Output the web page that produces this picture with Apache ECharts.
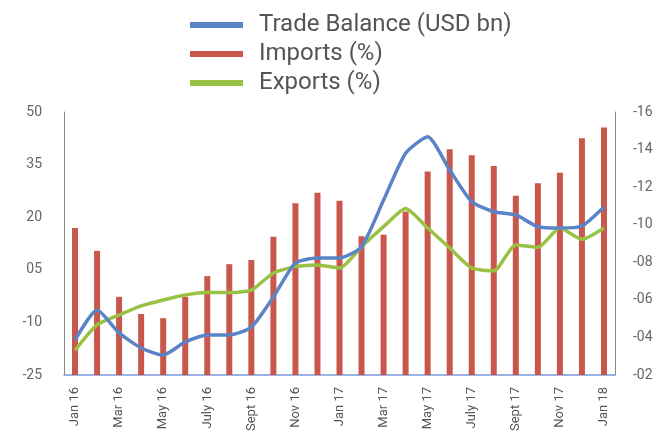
<!DOCTYPE html>
<html>
<head>
<meta charset="utf-8">
<script src="https://cdn.jsdelivr.net/npm/echarts@6/dist/echarts.min.js"></script>
<style>html,body{margin:0;padding:0;background:#fff;}#c{width:669px;height:441px;}</style>
</head>
<body>
<div id="c"></div>
<script>
const categories = ['Jan 16','Feb 16','Mar 16','Apr 16','May 16','Jun 16','July 16','Aug 16','Sept 16','Oct 16','Nov 16','Dec 16',
  'Jan 17','Feb 17','Mar 17','Apr 17','May 17','Jun 17','July 17','Aug 17','Sept 17','Oct 17','Nov 17','Dec 17','Jan 18'];
const imports = [16.9,10.4,-2.7,-7.6,-8.8,-2.7,3.2,6.6,7.8,14.4,24.0,27.0,24.7,14.6,15.0,21.6,33.0,39.4,37.7,34.6,26.1,29.7,32.7,42.5,45.6];
const exportsPct = [-17.9,-10.7,-7.9,-5.3,-3.6,-2.2,-1.5,-1.5,-0.8,4.1,5.9,6.4,5.5,11.6,17.3,22.5,16.9,11.2,5.5,4.7,12.1,11.4,16.9,13.7,16.9];
const tradeBalance = [-3.86,-5.46,-4.24,-3.44,-3.06,-3.76,-4.13,-4.13,-4.55,-6.15,-7.96,-8.23,-8.23,-8.83,-11.31,-13.81,-14.68,-12.91,-11.22,-10.69,-10.52,-9.89,-9.82,-9.93,-10.94];
const leftTicks = {min:-25, max:50, interval:15};
const rightTicks = {min:-16, max:-2, interval:2};

const chart = echarts.init(document.getElementById('c'));
const font = 'Roboto, "Noto Sans", sans-serif';
chart.setOption({
  backgroundColor:'#fff',
  animation:false,
  legend:{
    orient:'vertical', left:185, top:8,
    itemWidth:53, itemHeight:6, itemGap:5, icon:'rect',
    textStyle:{fontSize:24, color:'#555', fontFamily:font, padding:[0,0,0,11]},
    data:['Trade Balance (USD bn)','Imports (%)','Exports (%)']
  },
  grid:{left:64, right:54, top:112, bottom:66},
  xAxis:{
    type:'category', data:categories, boundaryGap:true,
    axisLine:{onZero:false, lineStyle:{color:'#7f97dc', width:1.5}},
    axisTick:{show:false},
    axisLabel:{interval:1, rotate:90, fontSize:13, color:'#555', fontFamily:font, margin:12}
  },
  yAxis:[
    {type:'value', min:leftTicks.min, max:leftTicks.max, interval:leftTicks.interval, startValue:-25,
     axisLine:{show:true, lineStyle:{color:'#888'}}, axisTick:{show:false}, splitLine:{show:false},
     axisLabel:{fontSize:14, color:'#666', fontFamily:font, margin:22,
       formatter:v=> (v>=0 && v<10) ? '0'+v : String(v)}},
    {type:'value', min:rightTicks.min, max:rightTicks.max, interval:rightTicks.interval, inverse:true,
     position:'right',
     axisLine:{show:true, lineStyle:{color:'#888'}}, axisTick:{show:false}, splitLine:{show:false},
     axisLabel:{fontSize:14, color:'#666', fontFamily:font, margin:18,
       formatter:v=> '-' + String(Math.abs(v)).padStart(2,'0')}}
  ],
  series:[
    {name:'Imports (%)', type:'bar', data:imports, yAxisIndex:0, barWidth:6,
     itemStyle:{color:'#c9574b'}, z:1},
    {name:'Trade Balance (USD bn)', type:'line', data:tradeBalance, yAxisIndex:1, smooth:0.2,
     symbol:'none', lineStyle:{color:'#5a84c6', width:3.5}, itemStyle:{color:'#5a84c6'}, z:3},
    {name:'Exports (%)', type:'line', data:exportsPct, yAxisIndex:0, smooth:0.2,
     symbol:'none', lineStyle:{color:'#98c244', width:3.5}, itemStyle:{color:'#98c244'}, z:2}
  ]
});
</script>
</body>
</html>
